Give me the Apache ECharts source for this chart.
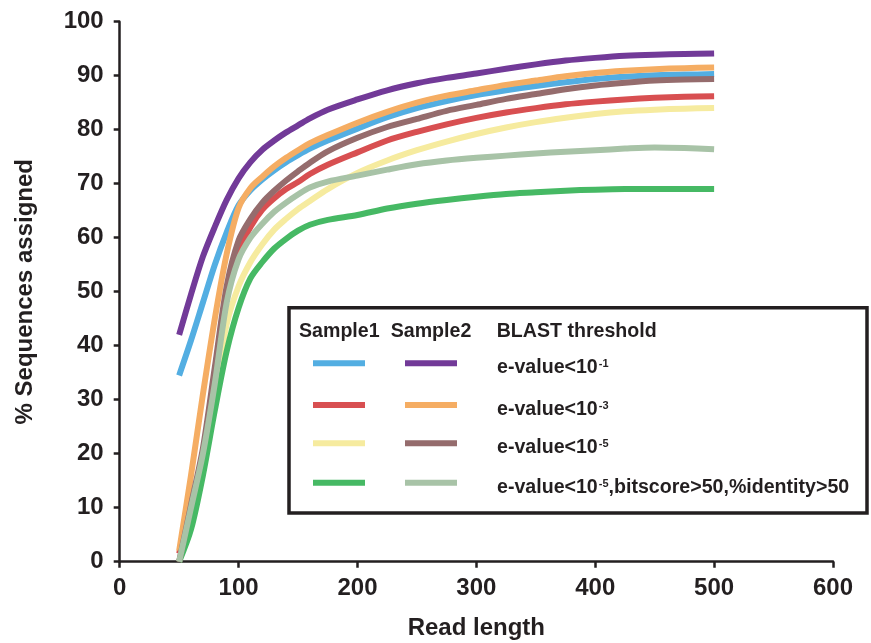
<!DOCTYPE html>
<html><head><meta charset="utf-8">
<script src="https://cdn.jsdelivr.net/npm/echarts@6/dist/echarts.min.js"></script>
<style>html,body{margin:0;padding:0;background:#fff}#c{width:871px;height:643px}</style>
</head><body><div id="c"></div>
<script>
// ---- data ----
const readLength = [50,60,70,80,90,100,110,120,130,140,150,160,175,200,225,250,275,300,325,350,375,400,425,450,475,500];

const s1Evalue1   = [34.5,41,48,55,61,66,68.8,70.8,72.5,74,75.3,76.5,78,80.2,82.3,84,85.3,86.4,87.3,88.1,88.8,89.4,89.8,90.1,90.2,90.3];
const s1Evalue3   = [1.5,10,20,35,50,57.5,62,65.2,67.3,69,70.3,71.8,73.5,75.8,78,79.6,81,82.2,83.2,84,84.7,85.2,85.6,85.9,86.1,86.2];
const s1Evalue5   = [0,8,17,31,44,51,55.5,58.8,61.5,63.5,65.3,66.8,69,72,74.3,76.2,77.8,79.2,80.4,81.4,82.2,82.9,83.4,83.7,83.9,84];
const s1Strict    = [0,6,16,28,39,47,52.5,55.5,58,59.8,61.3,62.4,63.3,64.2,65.4,66.3,67,67.6,68.1,68.4,68.7,68.9,69,69,69,69];

const s2Evalue1   = [42,49.5,56.5,62,67,71,74,76.3,78,79.5,80.8,82.1,83.7,85.6,87.3,88.6,89.6,90.4,91.3,92.1,92.8,93.3,93.7,93.9,94,94.1];
const s2Evalue3   = [2,16,31,45,57,65.5,69.2,71.3,73.2,74.8,76.2,77.5,79,81.3,83.3,85,86.3,87.3,88.3,89.1,89.9,90.5,90.9,91.2,91.4,91.5];
const s2Evalue5   = [0,10.5,21,36,51,59.5,63.5,66.5,68.7,70.6,72.3,73.9,76,78.5,80.5,82,83.5,84.6,85.7,86.6,87.5,88.2,88.7,89.1,89.3,89.4];
const s2Strict    = [0,10,20,33,48,56,60,62.6,64.8,66.5,68,69.3,70.4,71.5,72.6,73.6,74.3,74.8,75.2,75.6,75.9,76.2,76.5,76.7,76.6,76.4];

const thresholdLabels = ['e-value<10^-1', 'e-value<10^-3', 'e-value<10^-5', 'e-value<10^-5,bitscore>50,%identity>50'];
const sample1Series = [s1Evalue1, s1Evalue3, s1Evalue5, s1Strict];
const sample2Series = [s2Evalue1, s2Evalue3, s2Evalue5, s2Strict];
const sample1Colors = ['#53aee2', '#d84f51', '#f6eb9f', '#46b964'];
const sample2Colors = ['#723a98', '#f5ad63', '#956c6d', '#a8c3a7'];

// ---- build ----
const FONT = 'Liberation Sans, Arial, Helvetica, sans-serif';
const INK = '#231f20';

function pairs(ys) { return readLength.map((x, i) => [x, ys[i]]); }
function lineSeries(name, ys, color) {
  return {
    name, type: 'line', data: pairs(ys), showSymbol: false, symbol: 'none',
    smooth: 0.3, animation: false, silent: true,
    lineStyle: { width: 6, color, cap: 'butt', join: 'round' },
    itemStyle: { color }
  };
}
const series = [];
sample1Series.forEach((ys, i) => series.push(lineSeries('Sample1 ' + thresholdLabels[i], ys, sample1Colors[i])));
sample2Series.forEach((ys, i) => series.push(lineSeries('Sample2 ' + thresholdLabels[i], ys, sample2Colors[i])));

// legend graphics
const boxX = 289, boxY = 307.7, boxW = 578, boxH = 205.3;
const headerY = 332;
const rowLineY = [363.3, 405, 443.3, 482.7];
const rowTextY = [367.5, 409.5, 447.5, 487.5];
const col1X = [313, 365], col2X = [405, 457], textX = 497;
const LEG_FONT = 'bold 19.6px ' + FONT;

function richLabel(s) {
  const m = s.match(/^(.*?10)\^(-\d)(.*)$/);
  return '{m|' + m[1] + '}{s|' + m[2] + '}{m|' + m[3] + '}';
}
const rich = {
  m: { fontSize: 19.6, fontWeight: 'bold', fontFamily: FONT, fill: INK, lineHeight: 24 },
  s: { fontSize: 11, fontWeight: 'bold', fontFamily: FONT, fill: INK, lineHeight: 11, verticalAlign: 'top', padding: [3, 0, 0, 1] }
};

const graphics = [
  { type: 'rect', shape: { x: boxX, y: boxY, width: boxW, height: boxH }, style: { fill: '#fff', stroke: INK, lineWidth: 3.5 }, z: 10 },
  { type: 'text', x: 299, y: headerY, style: { text: 'Sample1', font: LEG_FONT, fill: INK, verticalAlign: 'middle' }, z: 11 },
  { type: 'text', x: 390.7, y: headerY, style: { text: 'Sample2', font: LEG_FONT, fill: INK, verticalAlign: 'middle' }, z: 11 },
  { type: 'text', x: 496.7, y: headerY, style: { text: 'BLAST threshold', font: LEG_FONT, fill: INK, verticalAlign: 'middle' }, z: 11 }
];
thresholdLabels.forEach((lab, i) => {
  graphics.push({ type: 'line', shape: { x1: col1X[0], y1: rowLineY[i], x2: col1X[1], y2: rowLineY[i] }, style: { stroke: sample1Colors[i], lineWidth: 6, lineCap: 'butt' }, z: 11 });
  graphics.push({ type: 'line', shape: { x1: col2X[0], y1: rowLineY[i], x2: col2X[1], y2: rowLineY[i] }, style: { stroke: sample2Colors[i], lineWidth: 6, lineCap: 'butt' }, z: 11 });
  graphics.push({ type: 'text', x: textX, y: rowTextY[i], style: { text: richLabel(lab), rich, verticalAlign: 'middle', align: 'left' }, z: 11 });
});

const axisText = { fontSize: 24, fontWeight: 'bold', fontFamily: FONT, color: INK };

const option = {
  animation: false,
  backgroundColor: '#fff',
  grid: { left: 119.7, right: 38, top: 21.7, bottom: 81.3, containLabel: false, outerBoundsMode: 'none' },
  xAxis: {
    type: 'value', min: 0, max: 600, interval: 100,
    name: 'Read length', nameLocation: 'middle', nameGap: 55,
    nameTextStyle: axisText,
    axisLine: { show: true, onZero: false, lineStyle: { color: INK, width: 2.5 } },
    axisTick: { show: true, length: 6, lineStyle: { color: INK, width: 2.5 } },
    axisLabel: Object.assign({ margin: 15, showMinLabel: true, showMaxLabel: true }, axisText),
    splitLine: { show: false }
  },
  yAxis: {
    type: 'value', min: 0, max: 100, interval: 10,
    name: '% Sequences assigned', nameLocation: 'middle', nameGap: 82,
    nameTextStyle: axisText,
    axisLine: { show: true, onZero: false, lineStyle: { color: INK, width: 2.5 } },
    axisTick: { show: true, length: 6, lineStyle: { color: INK, width: 2.5 } },
    axisLabel: Object.assign({ margin: 16, showMinLabel: true, showMaxLabel: true }, axisText),
    splitLine: { show: false }
  },
  series,
  graphic: { elements: graphics }
};

const chart = echarts.init(document.getElementById('c'), null, { renderer: 'canvas' });
chart.setOption(option);
</script>
</body></html>
